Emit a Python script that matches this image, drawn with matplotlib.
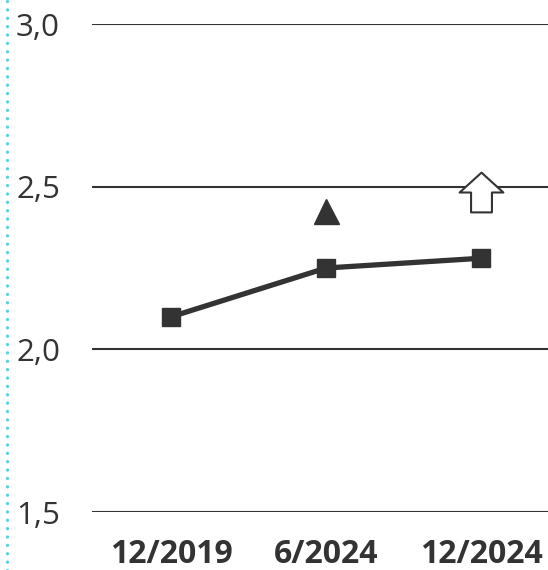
import matplotlib.pyplot as plt
from matplotlib.path import Path
from matplotlib.lines import Line2D

# chart values
categories = ['12/2019', '6/2024', '12/2024']
values = [2.10, 2.25, 2.28]
triangle_value = 2.425   # marker above 6/2024
arrow_value = 2.48       # hollow up arrow above 12/2024
y_ticks = [1.5, 2.0, 2.5, 3.0]

plt.rcParams['font.family'] = ['Open Sans', 'DejaVu Sans']
dark = '#333333'

fig = plt.figure(figsize=(5.48, 5.70), dpi=100)
ax = fig.add_axes([92 / 548, 58 / 570, 456 / 548, 488 / 570])

x = list(range(len(categories)))

# horizontal gridlines
for t in y_ticks:
    ax.axhline(t, color=dark, linewidth=1.5, zorder=1)

ax.plot(x, values, color=dark, linewidth=3.8, marker='s', markersize=13,
        zorder=3)

ax.plot([1], [triangle_value], linestyle='none', marker='^', markersize=18,
        color=dark, zorder=3)

# hollow up arrow marker
arrow_path = Path([(-10.5, -19), (10.5, -19), (10.5, 1), (22, 1), (0, 21),
                   (-22, 1), (-10.5, 1), (-10.5, -19)],
                  [Path.MOVETO] + [Path.LINETO] * 6 + [Path.CLOSEPOLY])
ax.plot([2], [arrow_value], linestyle='none', marker=arrow_path,
        markersize=31.5, markerfacecolor='white', markeredgecolor=dark,
        markeredgewidth=1.5, zorder=4)

ax.set_xlim(-0.51, 2.43)
ax.set_ylim(1.5, 3.0)
ax.set_yticks(y_ticks)
ax.set_yticklabels([f'{t:.1f}'.replace('.', ',') for t in y_ticks],
                   fontsize=22.5, color=dark)
ax.set_xticks(x)
ax.set_xticklabels(categories, fontsize=23, fontweight='bold', color=dark)
ax.tick_params(axis='y', length=0, pad=23)
ax.tick_params(axis='x', length=0, pad=19)
for s in ax.spines.values():
    s.set_visible(False)

# dotted cyan rule at the left edge
fig.add_artist(Line2D([7 / 548, 7 / 548], [0, 1], transform=fig.transFigure,
                      color='#5dd0e0', linewidth=2.4,
                      linestyle=(0, (0.01, 2.5)), dash_capstyle='round'))

fig.savefig('out.png', dpi=100)
